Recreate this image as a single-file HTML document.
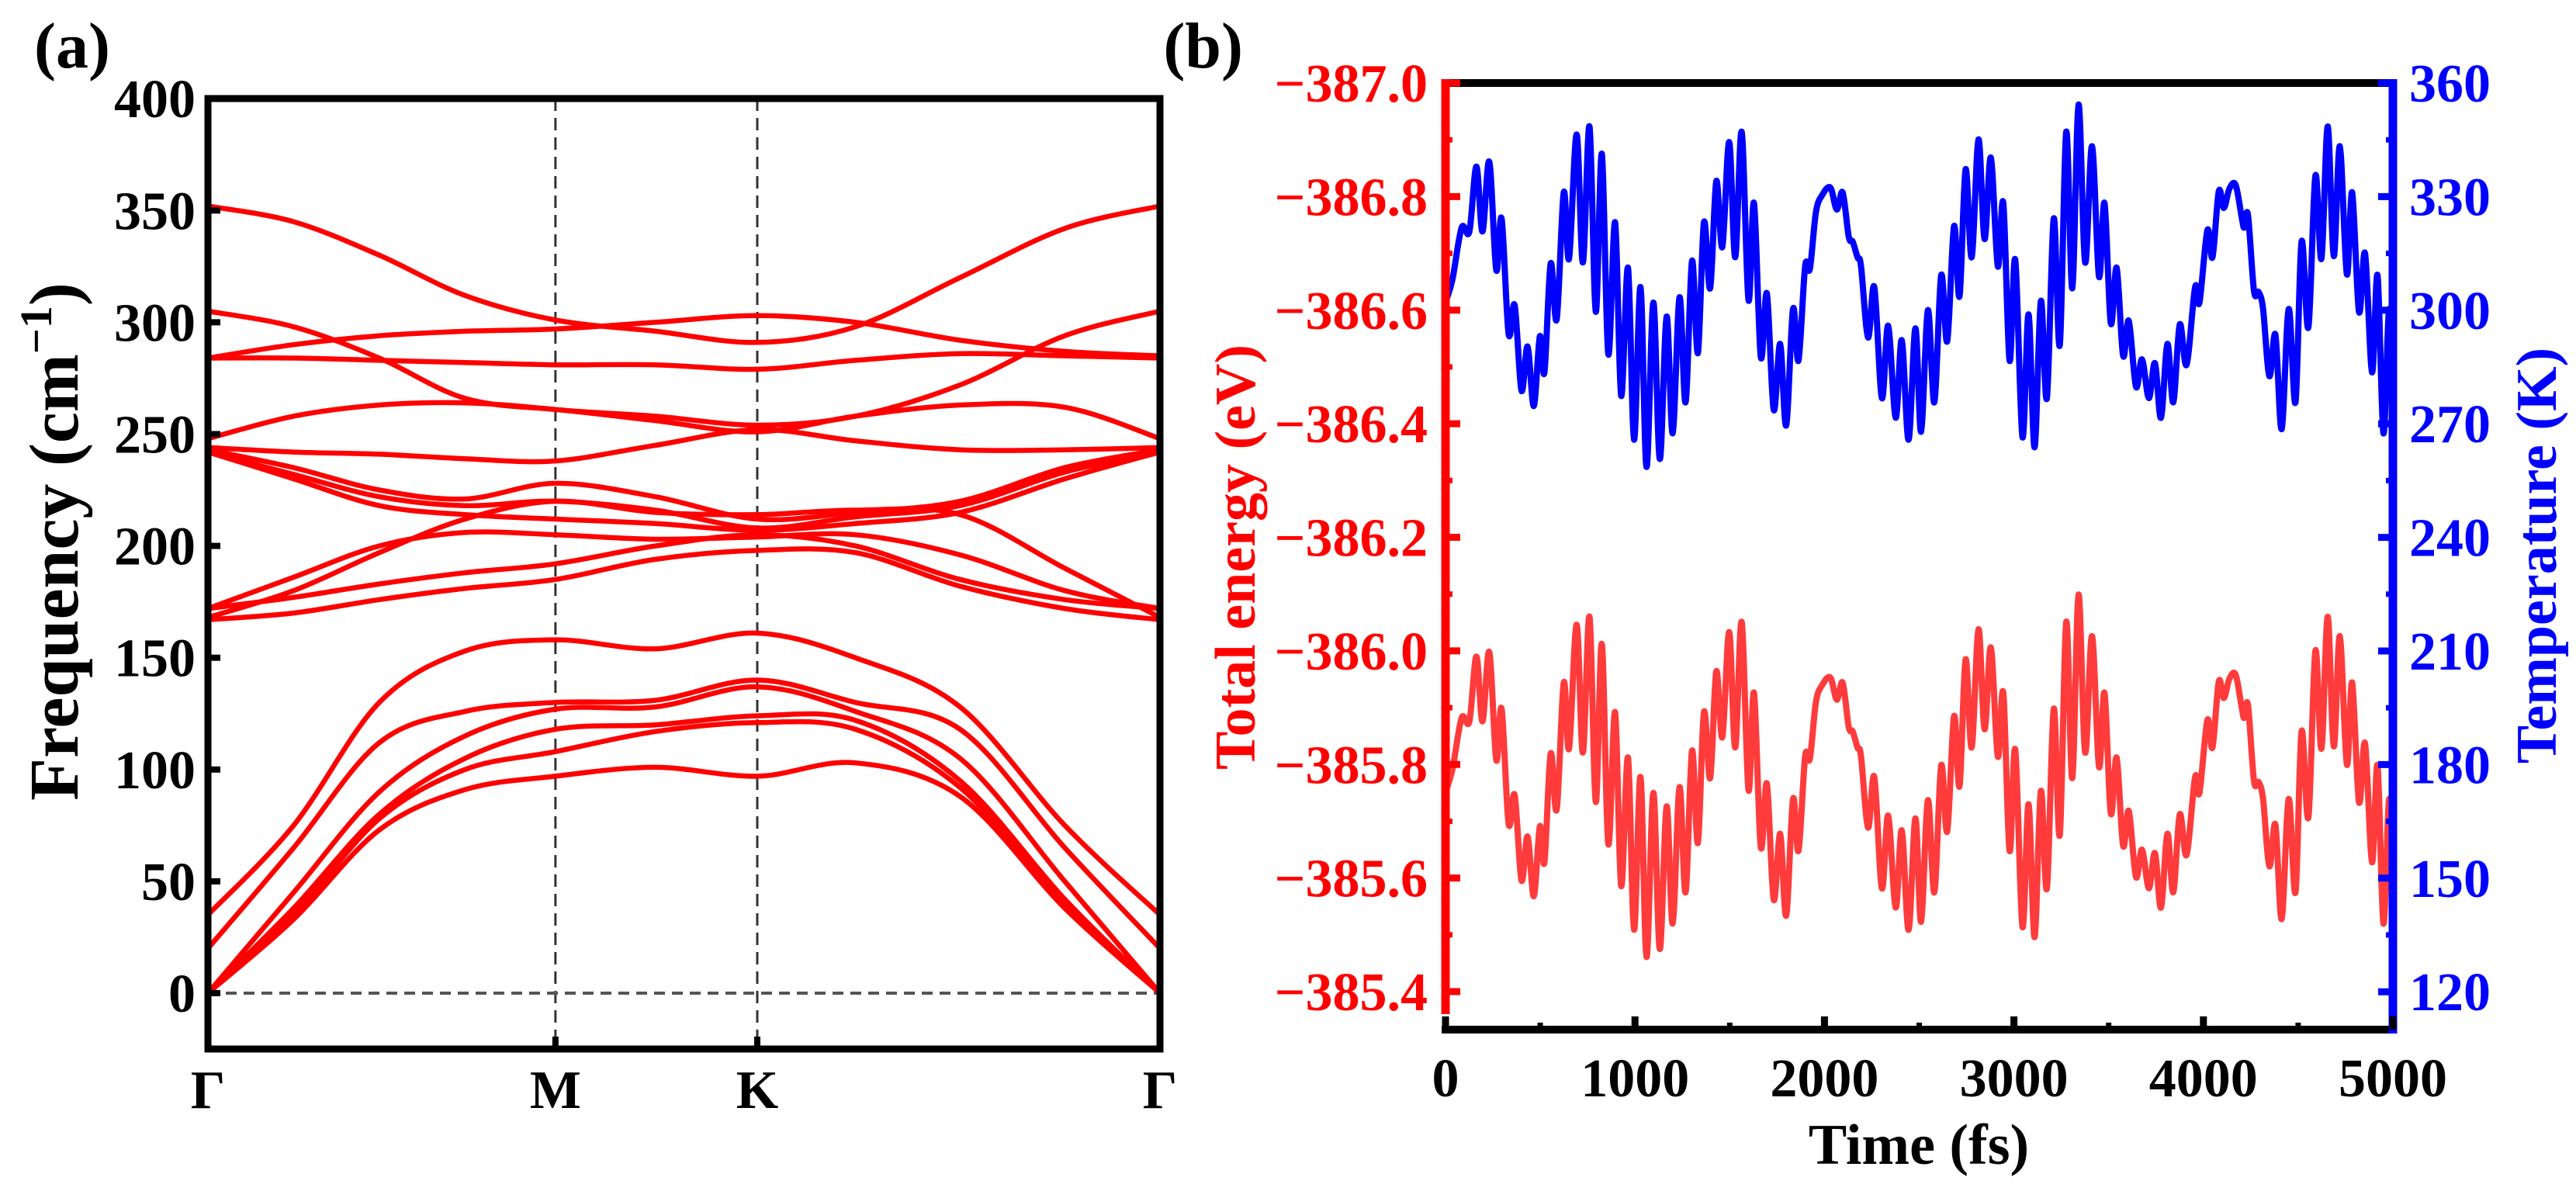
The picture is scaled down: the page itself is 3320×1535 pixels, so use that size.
<!DOCTYPE html>
<html><head><meta charset="utf-8"><style>
html,body{margin:0;padding:0;background:#fff;}
svg{display:block;}
text{font-family:"Liberation Serif","DejaVu Serif",serif;font-weight:bold;}
</style></head><body>
<svg id="fig" width="3320" height="1535" viewBox="0 0 3320 1535" xmlns="http://www.w3.org/2000/svg">
<g id="pa"></g>
<g id="pb"></g>
</svg>
<script>
// ---------- Panel (a) data: phonon bands ----------
const kLabels = ["Γ","M","K","Γ"];
const kLabelPos = [0, 0.365, 0.577, 1];
const kSamples = [0, 0.09, 0.18, 0.27, 0.365, 0.47, 0.577, 0.68, 0.79, 0.9, 1];
const freqTicks = [0, 50, 100, 150, 200, 250, 300, 350, 400];
const band1 = [352, 345, 330, 312, 301, 296, 291, 298, 320, 342, 352];
const band2 = [284, 290, 294, 296, 297, 300, 303, 300, 292, 287, 285];
const band3 = [305, 298, 284, 266, 261, 258, 254, 258, 272, 294, 305];
const band4 = [284, 284, 283, 282, 281, 281, 279, 283, 286, 285, 284];
const band5 = [248, 258, 263, 264, 261, 256, 251, 258, 263, 262, 248];
const band6 = [244, 242, 241, 239, 238, 245, 252, 247, 243, 243, 244];
const band7 = [243, 235, 225, 221, 228, 222, 212, 215, 220, 235, 243];
const band8 = [242, 232, 222, 218, 220, 216, 208, 213, 218, 233, 242];
const band9 = [242, 230, 218, 214, 212, 210, 207, 210, 215, 230, 242];
const band10 = [172, 186, 200, 206, 205, 203, 204, 205, 196, 180, 172];
const band11 = [168, 180, 197, 212, 220, 215, 214, 216, 214, 190, 168];
const band12 = [172, 177, 183, 188, 192, 200, 205, 200, 185, 176, 172];
const band13 = [167, 170, 176, 181, 185, 194, 198, 197, 182, 172, 167];
const band14 = [35, 75, 130, 153, 158, 154, 161, 150, 128, 75, 35];
const band15 = [20, 65, 112, 126, 130, 131, 140, 130, 118, 65, 20];
const band16 = [0, 45, 90, 115, 127, 128, 137, 126, 105, 50, 0];
const band17 = [0, 38, 80, 105, 118, 120, 124, 122, 95, 42, 0];
const band18 = [0, 35, 78, 100, 108, 117, 121, 118, 92, 40, 0];
const band19 = [0, 33, 73, 91, 97, 101, 97, 103, 88, 38, 0];
const bands = [band1,band2,band3,band4,band5,band6,band7,band8,band9,band10,band11,band12,band13,band14,band15,band16,band17,band18,band19];

// ---------- Panel (b) data: MD time series ----------
const timeTicks = [0, 1000, 2000, 3000, 4000, 5000];
const energyTicks = [-387.0, -386.8, -386.6, -386.4, -386.2, -386.0, -385.8, -385.6, -385.4];
const tempTicks = [360, 330, 300, 270, 240, 210, 180, 150, 120];
const times = [4,37,85,126,163,195,231,268,296,333,365,401,433,466,498,522,555,587,624,652,692,725,760,793,825,859,895,927,963,995,1029,1061,1097,1131,1167,1199,1235,1267,1301,1332,1364,1397,1429,1461,1497,1529,1563,1599,1628,1664,1696,1732,1766,1798,1834,1863,1898,1923,1955,1988,2031,2065,2096,2128,2149,2174,2193,2230,2263,2303,2336,2376,2408,2444,2480,2510,2546,2580,2616,2648,2684,2713,2745,2777,2813,2845,2878,2915,2944,2977,3007,3045,3077,3109,3142,3174,3210,3242,3276,3308,3341,3376,3412,3449,3478,3511,3542,3576,3606,3644,3676,3712,3744,3776,3810,3841,3875,3911,3956,3979,4021,4048,4081,4108,4137,4170,4202,4215,4235,4267,4291,4315,4348,4380,4413,4450,4486,4518,4554,4591,4623,4656,4688,4720,4757,4785,4821,4853,4890,4919,4950,4979,5000];
const temperature = [302.7,308.2,321.8,320.8,337.9,320.8,339.2,310.6,324.2,293.8,301.3,278.8,290.4,274.7,293.1,283.6,312.3,297.6,331.1,313.6,346.4,312.6,348.5,299.6,341.3,288.4,323.2,277.4,311.2,265.8,306.1,258.6,302.0,260.7,298.3,267.5,303.4,275.7,313.0,288.7,323.2,305.8,334.1,316.7,344.4,314.0,347.1,302.7,328.3,287.7,304.4,273.7,291.1,269.6,300.3,286.7,311.6,310.9,325.9,330.4,332.4,326.6,331.1,319.4,318.1,314.0,311.6,292.8,306.1,276.8,295.9,271.6,292.1,265.8,295.2,267.9,300.0,275.7,309.2,291.8,322.2,303.7,337.2,314.0,345.1,318.8,340.3,311.6,328.3,286.7,313.3,266.5,298.9,263.8,302.4,276.8,324.2,290.8,347.1,305.8,354.3,312.6,343.3,308.9,328.3,296.6,311.2,288.0,297.2,279.8,287.0,276.8,286.0,271.6,291.1,275.7,296.2,285.6,306.1,302.0,321.1,314.0,331.4,327.0,332.1,333.1,324.6,321.8,325.2,305.1,304.8,300.3,282.6,293.5,268.6,300.3,275.7,318.1,295.5,335.5,313.6,348.5,314.3,343.3,309.5,331.1,299.6,315.0,283.6,309.2,267.5,300.0,285.0];
const energy = [-385.755,-385.792,-385.882,-385.876,-385.990,-385.876,-385.998,-385.808,-385.898,-385.696,-385.746,-385.596,-385.673,-385.568,-385.691,-385.628,-385.819,-385.721,-385.944,-385.828,-386.046,-385.821,-386.060,-385.734,-386.012,-385.660,-385.892,-385.586,-385.812,-385.509,-385.778,-385.461,-385.750,-385.475,-385.726,-385.520,-385.760,-385.575,-385.824,-385.662,-385.892,-385.776,-385.964,-385.848,-386.033,-385.830,-386.051,-385.755,-385.926,-385.655,-385.766,-385.562,-385.678,-385.534,-385.739,-385.648,-385.814,-385.810,-385.910,-385.940,-385.953,-385.914,-385.944,-385.866,-385.858,-385.830,-385.814,-385.689,-385.778,-385.582,-385.710,-385.548,-385.684,-385.509,-385.705,-385.523,-385.737,-385.575,-385.798,-385.682,-385.885,-385.762,-385.985,-385.830,-386.038,-385.862,-386.006,-385.814,-385.926,-385.648,-385.826,-385.514,-385.730,-385.496,-385.753,-385.582,-385.898,-385.676,-386.051,-385.776,-386.099,-385.821,-386.026,-385.796,-385.926,-385.714,-385.812,-385.657,-385.718,-385.602,-385.650,-385.582,-385.644,-385.548,-385.678,-385.575,-385.712,-385.641,-385.778,-385.750,-385.878,-385.830,-385.946,-385.917,-385.951,-385.958,-385.901,-385.882,-385.905,-385.771,-385.769,-385.739,-385.621,-385.694,-385.528,-385.739,-385.575,-385.858,-385.707,-386.000,-385.828,-386.060,-385.832,-386.026,-385.800,-385.944,-385.734,-385.837,-385.628,-385.798,-385.520,-385.737,-385.637];

const NS = "http://www.w3.org/2000/svg";
function mk(parent, tag, attrs, txt){
  const e = document.createElementNS(NS, tag);
  for (const k in attrs) e.setAttribute(k, attrs[k]);
  if (txt !== undefined) e.textContent = txt;
  parent.appendChild(e);
  return e;
}
function smoothPath(pts){
  let d = "M" + pts[0][0].toFixed(1) + "," + pts[0][1].toFixed(1);
  for (let i = 0; i < pts.length - 1; i++){
    const p0 = pts[Math.max(0, i-1)], p1 = pts[i], p2 = pts[i+1], p3 = pts[Math.min(pts.length-1, i+2)];
    const c1x = p1[0] + (p2[0]-p0[0])/6, c1y = p1[1] + (p2[1]-p0[1])/6;
    const c2x = p2[0] - (p3[0]-p1[0])/6, c2y = p2[1] - (p3[1]-p1[1])/6;
    d += "C" + c1x.toFixed(1)+","+c1y.toFixed(1)+" "+c2x.toFixed(1)+","+c2y.toFixed(1)+" "+p2[0].toFixed(1)+","+p2[1].toFixed(1);
  }
  return d;
}

// ---------- Panel (a) ----------
const A = {x0:268, x1:1495, y0:127, y1:1352};
function xk(k){ return A.x0 + k*(A.x1 - A.x0); }
function yf(f){ return 1280 - f*2.882; }
const pa = document.getElementById("pa");

// dashed guide lines
[kLabelPos[1], kLabelPos[2]].forEach(function(k, i){
  const l = mk(pa, "line", {x1:xk(k), x2:xk(k), y1:A.y0, y2:A.y1, stroke:"#333", "stroke-width":3, "stroke-dasharray":"16,9"});
  
  
});
const zl = mk(pa, "line", {x1:A.x0, x2:A.x1, y1:yf(0), y2:yf(0), stroke:"#555", "stroke-width":4, "stroke-dasharray":"14,9"});



// bands
const bandG = mk(pa, "g", {});


bands.forEach(function(b, i){
  const pts = b.map(function(f, j){ return [xk(kSamples[j]), yf(f)]; });
  const p = mk(bandG, "path", {d: smoothPath(pts), fill:"none", stroke:"#ff0000", "stroke-width":6.5, "stroke-linejoin":"round", "stroke-linecap":"round"});
  
  
});

// frame
const fa = mk(pa, "rect", {x:A.x0, y:A.y0, width:A.x1-A.x0, height:A.y1-A.y0, fill:"none", stroke:"#000", "stroke-width":9});



// y ticks + labels
freqTicks.forEach(function(v){
  const y = yf(v);
  const t = mk(pa, "line", {x1:A.x0, x2:A.x0+16, y1:y, y2:y, stroke:"#000", "stroke-width":8});
  
  
  const lb = mk(pa, "text", {x:252, y:y+24, "text-anchor":"end", "font-size":70, fill:"#000"}, String(v));
  
  
});
// x ticks + labels
kLabels.forEach(function(s, i){
  const x = xk(kLabelPos[i]);
  if (i === 1 || i === 2){
    const t = mk(pa, "line", {x1:x, x2:x, y1:A.y1, y2:A.y1-16, stroke:"#000", "stroke-width":8});
    
    
  }
  const lb = mk(pa, "text", {x:x, y:1428, "text-anchor":"middle", "font-size":70, fill:"#000"}, s);
  
  
});
// y title
const yt = mk(pa, "text", {x:0, y:0, "text-anchor":"middle", "font-size":90, fill:"#000", transform:"translate(100,698) rotate(-90)"});


mk(yt, "tspan", {}, "Frequency (cm");
mk(yt, "tspan", {dy:-34, "font-size":58}, "−1");
mk(yt, "tspan", {dy:34}, ")");
const la = mk(pa, "text", {x:44, y:87, "font-size":84, fill:"#000"}, "(a)");



// ---------- Panel (b) ----------
const B = {x0:1863, x1:3084, y0:107, y1:1327};
function xt(t){ return B.x0 + t/5000*(B.x1 - B.x0); }
function yT(T){ return B.y0 + (360 - T)*4.88; }
function yE(E){ return B.y0 + (E + 387)*731.9; }
const pb = document.getElementById("pb");

const ePts = times.map(function(t, i){ return [xt(t), yE(energy[i])]; });
const eLine = mk(pb, "path", {d: smoothPath(ePts), fill:"none", stroke:"#ff3b3b", "stroke-width":8, "stroke-linejoin":"round"});


const tPts = times.map(function(t, i){ return [xt(t), yT(temperature[i])]; });
const tLine = mk(pb, "path", {d: smoothPath(tPts), fill:"none", stroke:"#0000ff", "stroke-width":8, "stroke-linejoin":"round"});



// frame pieces
const ft = mk(pb, "line", {x1:B.x0, x2:B.x1, y1:B.y0, y2:B.y0, stroke:"#000", "stroke-width":10});


const fbm = mk(pb, "line", {x1:B.x0-5, x2:B.x1, y1:B.y1, y2:B.y1, stroke:"#000", "stroke-width":10});


const fl = mk(pb, "line", {x1:B.x0, x2:B.x0, y1:B.y0-5, y2:B.y1-20, stroke:"#ff0000", "stroke-width":11});


const fr = mk(pb, "line", {x1:B.x1, x2:B.x1, y1:B.y0-5, y2:B.y1+5, stroke:"#0000ff", "stroke-width":11});



// left ticks
energyTicks.forEach(function(v){
  const y = yE(v);
  const t = mk(pb, "line", {x1:B.x0, x2:B.x0+19, y1:y, y2:y, stroke:"#ff0000", "stroke-width":9});
  
  
  const lb = mk(pb, "text", {x:1840, y:y+24, "text-anchor":"end", "font-size":70, fill:"#ff0000"}, "−" + Math.abs(v).toFixed(1));
  
  
});
energyTicks.slice(0, -1).forEach(function(v){
  const y = yE(v + 0.1);
  const t = mk(pb, "line", {x1:B.x0, x2:B.x0+9, y1:y, y2:y, stroke:"#ff0000", "stroke-width":7});
  
  
});
// right ticks
tempTicks.forEach(function(v){
  const y = yT(v);
  const t = mk(pb, "line", {x1:B.x1, x2:B.x1-19, y1:y, y2:y, stroke:"#0000ff", "stroke-width":9});
  
  
  const lb = mk(pb, "text", {x:3105, y:y+24, "text-anchor":"start", "font-size":70, fill:"#0000ff"}, String(v));
  
  
});
tempTicks.forEach(function(v){
  const y = yT(v - 15);
  if (y > B.y1 - 5) return;
  const t = mk(pb, "line", {x1:B.x1, x2:B.x1-9, y1:y, y2:y, stroke:"#0000ff", "stroke-width":7});
  
  
});
// bottom ticks
timeTicks.forEach(function(v){
  const x = xt(v);
  const t = mk(pb, "line", {x1:x, x2:x, y1:B.y1, y2:B.y1-17, stroke:"#000", "stroke-width":9});
  
  
  const lb = mk(pb, "text", {x:x, y:1413, "text-anchor":"middle", "font-size":70, fill:"#000"}, String(v));
  
  
  if (v < 5000){
    const m = mk(pb, "line", {x1:xt(v+500), x2:xt(v+500), y1:B.y1, y2:B.y1-9, stroke:"#000", "stroke-width":7});
    
    
  }
});
// titles
const xtl = mk(pb, "text", {x:2473, y:1500, "text-anchor":"middle", "font-size":74, fill:"#000"}, "Time (fs)");


const etl = mk(pb, "text", {x:0, y:0, "text-anchor":"middle", "font-size":74, fill:"#ff0000", transform:"translate(1617,718) rotate(-90)"}, "Total energy (eV)");


const ttl = mk(pb, "text", {x:0, y:0, "text-anchor":"middle", "font-size":74, fill:"#0000ff", transform:"translate(3294,716) rotate(-90)"}, "Temperature (K)");


const lbb = mk(pb, "text", {x:1602, y:87, "text-anchor":"end", "font-size":84, fill:"#000"}, "(b)");


</script>
</body></html>
